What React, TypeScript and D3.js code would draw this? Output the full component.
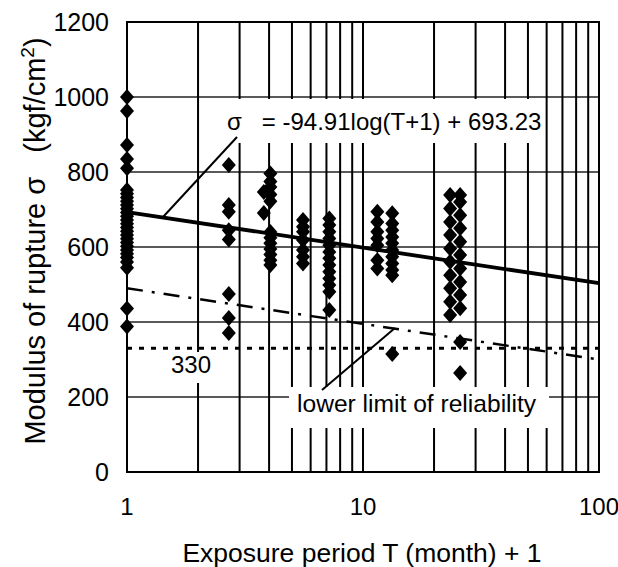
import React from "react";
import * as d3 from "d3";

const W = 618;
const H = 567;

// x value = exposure period T (month) + 1 ; y = modulus of rupture (kgf/cm2)
const col1X = 1;
const col1 = [1000, 963, 872, 835, 810, 752, 742, 732, 722, 712, 702, 692, 682, 672, 662, 652, 642, 632, 622, 612, 602, 592, 582, 572, 560, 545, 436, 388];
const col2X = 2.7;
const col2 = [819, 712, 694, 645, 620, 475, 411, 371];
const col3X = 4.05;
const col3 = [796, 775, 760, 740, 722, 640, 625, 610, 595, 580, 565, 552];
const col3bX = 3.8;
const col3b = [747, 691];
const col4X = 5.57;
const col4 = [672, 654, 641, 619, 592, 574, 556];
const col5X = 7.2;
const col5 = [676, 659, 641, 623, 605, 587, 570, 552, 534, 516, 499, 481, 432];
const col6X = 11.5;
const col6 = [694, 667, 641, 623, 605, 565, 543];
const col7X = 13.3;
const col7 = [690, 663, 645, 627, 610, 592, 574, 556, 539, 525, 315];
const col8aX = 23.4;
const col8a = [739, 703, 667, 632, 596, 561, 525, 490, 454, 419];
const col8bX = 25.8;
const col8b = [739, 720, 685, 650, 614, 579, 543, 507, 472, 437, 347, 264];

const lineX = [1, 100];
const regression = [693.23, 503.41];
const lowerLimit = [490, 300];
const limitValue = 330;

const yTicks = [0, 200, 400, 600, 800, 1000, 1200];
const xTicks = [1, 10, 100];
const xGrid = [2, 3, 4, 5, 6, 7, 8, 9, 10, 20, 30, 40, 50, 60, 70, 80, 90];

const groups: [number, number[]][] = [
  [col1X, col1], [col2X, col2], [col3X, col3], [col3bX, col3b], [col4X, col4],
  [col5X, col5], [col6X, col6], [col7X, col7], [col8aX, col8a], [col8bX, col8b],
];

export default function App() {
  const x = d3.scaleLog().domain([1, 100]).range([127, 599]);
  const y = d3.scaleLinear().domain([0, 1200]).range([472, 22]);
  const line = d3.line<[number, number]>().x(d => x(d[0])).y(d => y(d[1]));
  const font = "'Liberation Sans', Arial, Helvetica, sans-serif";

  const pts: { cx: number; cy: number }[] = [];
  groups.forEach(([gx, vals]) => vals.forEach(v => pts.push({ cx: x(gx), cy: y(v) })));

  return (
    <svg width={W} height={H} style={{ position: "absolute", left: 0, top: 0, background: "#fff" }} fontFamily={font}>
      <rect x={0} y={0} width={W} height={H} fill="#fff" />
      {/* horizontal grid */}
      {yTicks.slice(1, -1).map(t => (
        <line key={"h" + t} x1={x(1)} x2={x(100)} y1={y(t)} y2={y(t)} stroke="#222" strokeWidth={1.3} />
      ))}
      {/* vertical grid */}
      {xGrid.map(t => (
        <line key={"v" + t} x1={x(t)} x2={x(t)} y1={y(1200)} y2={y(0)} stroke="#000" strokeWidth={2} />
      ))}
      {/* frame */}
      <rect x={x(1)} y={y(1200)} width={x(100) - x(1)} height={y(0) - y(1200)} fill="none" stroke="#000" strokeWidth={2} />

      {/* limit dotted line */}
      <line x1={x(1)} x2={x(100)} y1={y(limitValue)} y2={y(limitValue)} stroke="#000" strokeWidth={3} strokeDasharray="5,7" />
      {/* lower limit dash-dot */}
      <path d={line(lineX.map((v, i) => [v, lowerLimit[i]]) as [number, number][]) || ""} fill="none" stroke="#000" strokeWidth={2.5} strokeDasharray="16,9,3,9" />
      {/* regression */}
      <path d={line(lineX.map((v, i) => [v, regression[i]]) as [number, number][]) || ""} fill="none" stroke="#000" strokeWidth={3.8} />

      {/* label boxes */}
      <rect x={222} y={99} width={318} height={44} fill="#fff" />
      <rect x={289} y={387} width={260} height={41} fill="#fff" />
      <rect x={165} y={352} width={55} height={31} fill="#fff" />

      {/* leaders */}
      <line x1={237} y1={137} x2={163} y2={217} stroke="#000" strokeWidth={2} />
      <line x1={322} y1={390} x2={395} y2={328} stroke="#000" strokeWidth={2} />

      <text x={227} y={130} fontSize={24} style={{ whiteSpace: "pre" }}>{"σ   = -94.91log(T+1) + 693.23"}</text>
      <text x={297} y={412} fontSize={24.6}>lower limit of reliability</text>
      <text x={191} y={373} fontSize={24} textAnchor="middle">330</text>

      {/* points */}
      {pts.map((p, i) => (
        <path key={i} d={`M${p.cx},${p.cy - 8}L${p.cx + 7},${p.cy}L${p.cx},${p.cy + 8}L${p.cx - 7},${p.cy}Z`} fill="#000" />
      ))}

      {/* ticks */}
      {yTicks.map(t => (
        <text key={"yt" + t} x={109} y={y(t) + 8.5} fontSize={25} textAnchor="end">{t}</text>
      ))}
      {xTicks.map(t => (
        <text key={"xt" + t} x={x(t)} y={515} fontSize={24} textAnchor="middle">{t}</text>
      ))}

      <text x={362} y={562} fontSize={26.5} textAnchor="middle">Exposure period T (month) + 1</text>
      <text transform="translate(45,241) rotate(-90)" fontSize={29} textAnchor="middle" style={{ whiteSpace: "pre" }}>
        {"Modulus of rupture σ   (kgf/cm"}
        <tspan dy={-11} fontSize={19}>2</tspan>
        <tspan dy={11}>)</tspan>
      </text>
    </svg>
  );
}
